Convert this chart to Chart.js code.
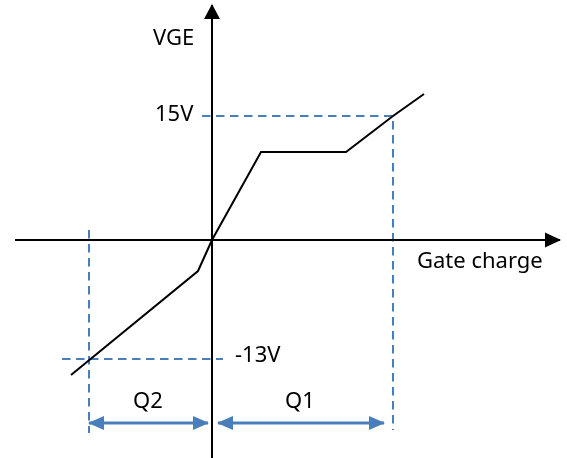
<!DOCTYPE html>
<html>
<head>
<meta charset="utf-8">
<script src="https://cdn.jsdelivr.net/npm/chart.js@4/dist/chart.umd.min.js"></script>
<style>
html,body{margin:0;padding:0;background:#fff;}
#c{display:block;}
</style>
</head>
<body>
<canvas id="c" width="567" height="458"></canvas>
<script>
// Schematic gate-charge curve (abstract units, origin at axis crossing)
const curveQ   = [-141, -14, 0, 49, 134, 181, 212];
const curveVGE = [-135, -31, 0, 88, 88, 124, 146];

const xAxisQ = [-197, 348];          // horizontal axis extent (arrow tip at end)
const yAxisV = [-218, 235];          // vertical axis extent (arrow tip at end)

const q1Level = 181;                 // charge where VGE = 15V
const q2Level = -123;                // charge where VGE = -13V
const vPos = 124;                    // 15V level
const vNeg = -119;                   // -13V level
const vPosGuideStart = -10;
const vNegGuideStart = -150;
const vNegGuideEnd = 11;
const q1GuideBottom = -190;
const q2GuideTop = 10;
const q2GuideBottom = -193;
const dimLevel = -183;               // level of Q1/Q2 dimension arrows
const q2ArrowEnd = -4;
const q1ArrowStart = 6;
const q1ArrowEnd = 172;

const labelTexts = ['VGE', '15V', '-13V', 'Q2', 'Q1', 'Gate charge'];
const labelQ     = [-59, -57, 23, -79, 73, 205];
const labelV     = [195, 119, -122, -168, -168, -28];

const BLACK = '#000000';
const BLUE = '#4a7ebb';

function pts(xs, ys){ return xs.map((x,i)=>({x:x, y:ys[i]})); }

const datasets = [
  {data: pts(xAxisQ, [0,0]), borderColor: BLACK, borderWidth: 2, arrows: ['end'], headLen: 15, headW: 15},
  {data: pts([0,0], yAxisV), borderColor: BLACK, borderWidth: 2, arrows: ['end'], headLen: 14, headW: 16},
  {data: pts(curveQ, curveVGE), borderColor: BLACK, borderWidth: 2},
  {data: pts([vPosGuideStart, q1Level, q1Level], [vPos, vPos, q1GuideBottom]), borderColor: BLUE, borderWidth: 2, borderDash: [8.5,5.5]},
  {data: pts([vNegGuideStart, vNegGuideEnd], [vNeg, vNeg]), borderColor: BLUE, borderWidth: 2, borderDash: [8.5,5.5]},
  {data: pts([q2Level, q2Level], [q2GuideTop, q2GuideBottom]), borderColor: BLUE, borderWidth: 2, borderDash: [8.5,5.5]},
  {data: pts([q2Level, q2ArrowEnd], [dimLevel, dimLevel]), borderColor: BLUE, borderWidth: 3, arrows: ['start','end'], headLen: 15, headW: 14},
  {data: pts([q1ArrowStart, q1ArrowEnd], [dimLevel, dimLevel]), borderColor: BLUE, borderWidth: 3, arrows: ['start','end'], headLen: 15, headW: 14}
].map(d => Object.assign({showLine: true, pointRadius: 0, tension: 0, fill: false, borderCapStyle: 'butt'}, d));

const diagramPlugin = {
  id: 'diagram',
  afterDatasetsDraw(chart){
    const ctx = chart.ctx;
    const xs = chart.scales.x, ys = chart.scales.y;
    chart.data.datasets.forEach(ds => {
      if(!ds.arrows) return;
      const p = ds.data.map(d => ({x: xs.getPixelForValue(d.x), y: ys.getPixelForValue(d.y)}));
      ds.arrows.forEach(which => {
        let tip, from;
        if(which === 'end'){ tip = p[p.length-1]; from = p[p.length-2]; }
        else { tip = p[0]; from = p[1]; }
        const dx = tip.x - from.x, dy = tip.y - from.y;
        const L = Math.hypot(dx, dy);
        const ux = dx/L, uy = dy/L;
        const bx = tip.x - ux*ds.headLen, by = tip.y - uy*ds.headLen;
        const hw = ds.headW/2;
        ctx.save();
        ctx.fillStyle = ds.borderColor;
        ctx.beginPath();
        ctx.moveTo(tip.x + ux*1, tip.y + uy*1);
        ctx.lineTo(bx - uy*hw, by + ux*hw);
        ctx.lineTo(bx + uy*hw, by - ux*hw);
        ctx.closePath();
        ctx.fill();
        ctx.restore();
      });
    });
    ctx.save();
    ctx.fillStyle = '#000';
    ctx.font = '22px "Noto Sans"';
    ctx.textBaseline = 'alphabetic';
    ctx.textAlign = 'left';
    labelTexts.forEach((t,i) => {
      ctx.fillText(t, xs.getPixelForValue(labelQ[i]), ys.getPixelForValue(labelV[i]));
    });
    ctx.restore();
  }
};

new Chart(document.getElementById('c'), {
  type: 'scatter',
  data: {datasets: datasets},
  options: {
    responsive: false,
    maintainAspectRatio: false,
    animation: false,
    layout: {padding: 0},
    plugins: {legend: {display: false}, tooltip: {enabled: false}},
    scales: {
      x: {type: 'linear', min: -212, max: 355, display: false},
      y: {type: 'linear', min: -218, max: 240, display: false}
    }
  },
  plugins: [diagramPlugin]
});
</script>
</body>
</html>
